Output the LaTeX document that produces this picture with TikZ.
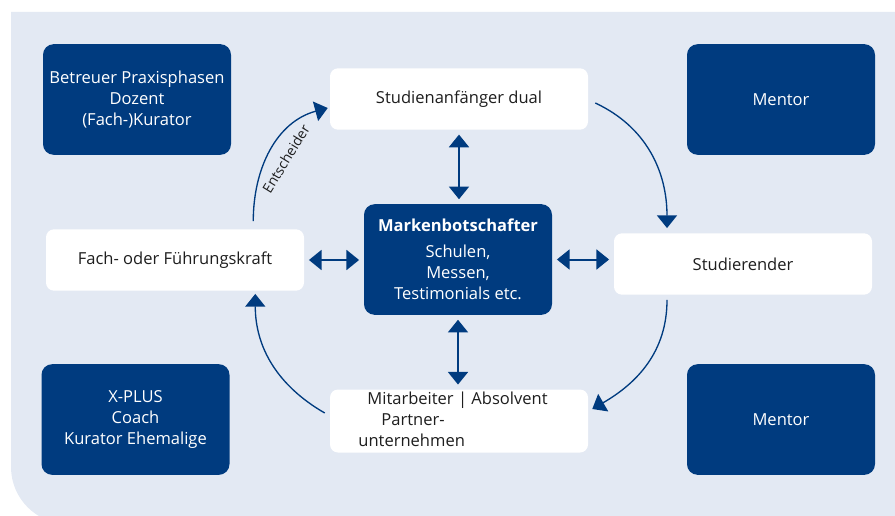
\documentclass[tikz,border=0pt]{standalone}
\usepackage{fontspec}
\setmainfont{Open Sans}
\usetikzlibrary{shapes,arrows.meta}
\definecolor{dunkelblau}{HTML}{003B7F}
\definecolor{hintergrund}{HTML}{E3E9F3}
\definecolor{schrift}{HTML}{1E1E1E}

\begin{document}
\begin{tikzpicture}[x=0.75pt,y=0.75pt,
    font=\fontsize{12.4}{15.75}\selectfont,
    >={Triangle[width=15pt,length=9.5pt]},
    dunkel/.style={rectangle,rounded corners=8pt,fill=dunkelblau,text=white,
        minimum width=141pt,minimum height=83pt,align=center,inner sep=0pt},
    hell/.style={rectangle,rounded corners=6pt,fill=white,text=schrift,
        minimum width=193.5pt,minimum height=46pt,align=center,inner sep=0pt},
    pfeil/.style={->,draw=dunkelblau,line width=1pt},
    doppel/.style={<->,draw=dunkelblau,line width=1.5pt,shorten <=3.5pt,shorten >=3.5pt}]

        % Hintergrund
        \clip (0,0) rectangle (895,515);
        \fill[hintergrund] (895,503) -- (11,503) -- (11,48)
            arc[start angle=180,end angle=270,radius=57] -- (895,-9) -- cycle;

        % Rollen in den Ecken
        \node[dunkel] (betreuer) at (137,415.5) {Betreuer Praxisphasen\\Dozent\\(Fach-)Kurator};
        \node[dunkel] (mentoroben) at (781,415.5) {Mentor};
        \node[dunkel] (xplus) at (135.5,95.5) {X-PLUS\\Coach\\Kurator Ehemalige};
        \node[dunkel] (mentorunten) at (781,95.5) {Mentor};

        % Stationen im Kreis
        \node[hell] (anfaenger) at (459,416) {Studienanfänger dual};
        \node[hell] (fachkraft) at (175,255) {Fach- oder Führungskraft};
        \node[hell] (studierender) at (743,251) {Studierender};
        \node[hell] (mitarbeiter) at (459,94) {%
            \begin{tabular}{@{}l@{}}
                \kern6.75pt Mitarbeiter | Absolvent\kern9pt\\
                \kern17.25pt Partner-\\
                unternehmen
            \end{tabular}};

        % Mitte
        \node[dunkel] (marken) at (458,255.5)
            {\textbf{Markenbotschafter}\\[4pt]Schulen,\\Messen,\\Testimonials etc.};

        % Doppelpfeile zur Mitte
        \draw[doppel] (anfaenger.south) -- (anfaenger.south |- marken.north);
        \draw[doppel] (marken.south) -- (mitarbeiter.north -| marken.south);
        \draw[doppel] (fachkraft.east) -- (fachkraft.east -| marken.west);
        \draw[doppel] (marken.east) -- (marken.east -| studierender.west);

        % Kreislauf
        \draw[pfeil] ([shift={(-51,8)}]fachkraft.north east) to[out=90,in=195]
            node[sloped,below=5pt,pos=0.5,font=\fontsize{10.5}{12}\selectfont,text=schrift] {Entscheider}
            ([shift={(-2,-9)}]anfaenger.west);
        \draw[pfeil] ([shift={(7,-4)}]anfaenger.east) to[out=-25,in=90]
            ([shift={(-76,5)}]studierender.north);
        \draw[pfeil] ([shift={(-76,-5)}]studierender.south) to[out=-90,in=30]
            ([shift={(4,12)}]mitarbeiter.east);
        \draw[pfeil] ([shift={(-5,8)}]mitarbeiter.west) to[out=150,in=-90]
            ([shift={(-49,-3)}]fachkraft.south east);
    \end{tikzpicture}
\end{document}
